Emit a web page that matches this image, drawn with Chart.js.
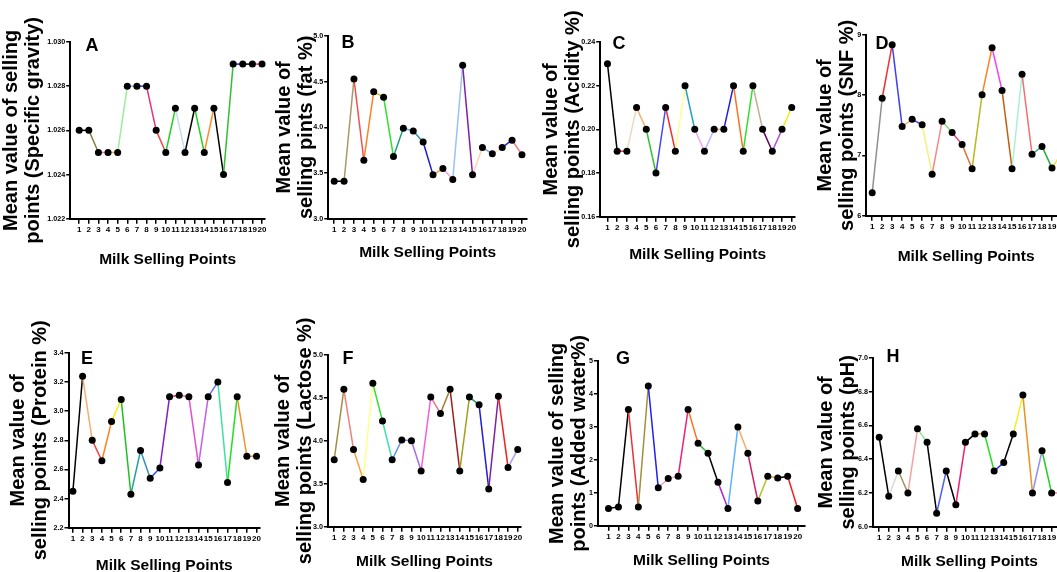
<!DOCTYPE html>
<html><head><meta charset="utf-8">
<script src="https://cdn.jsdelivr.net/npm/chart.js@4.4.1/dist/chart.umd.min.js"></script>
<style>
html,body{margin:0;padding:0;background:#fff;}
body{width:1057px;height:572px;overflow:hidden;position:relative;}
canvas{position:absolute;}
.tag{position:absolute;font:bold 18px 'Liberation Sans',Arial,sans-serif;color:#000;line-height:1;transform:translate(-50%,-50%);}
</style></head><body>
<script>
// ---------- data ----------
const sellingPoints = [1,2,3,4,5,6,7,8,9,10,11,12,13,14,15,16,17,18,19,20];

const specificGravity = [1.026,1.026,1.025,1.025,1.025,1.028,1.028,1.028,1.026,1.025,1.027,1.025,1.027,1.025,1.027,1.024,1.029,1.029,1.029,1.029];
const fatPct          = [3.41,3.41,4.53,3.64,4.39,4.33,3.68,3.99,3.96,3.84,3.48,3.55,3.43,4.68,3.48,3.78,3.71,3.78,3.86,3.70];
const acidityPct      = [0.23,0.19,0.19,0.21,0.20,0.18,0.21,0.19,0.22,0.20,0.19,0.20,0.20,0.22,0.19,0.22,0.20,0.19,0.20,0.21];
const snfPct          = [6.38,7.95,8.84,7.48,7.60,7.51,6.69,7.57,7.38,7.18,6.78,8.01,8.79,8.08,6.78,8.35,7.02,7.15,6.79,7.05];
const proteinPct      = [2.45,3.24,2.80,2.66,2.93,3.08,2.43,2.73,2.54,2.61,3.10,3.11,3.10,2.63,3.10,3.20,2.51,3.10,2.69,2.69];
const lactosePct      = [3.78,4.60,3.90,3.55,4.67,4.23,3.78,4.01,4.00,3.65,4.51,4.32,4.60,3.65,4.51,4.42,3.44,4.52,3.69,3.90];
const addedWaterPct   = [0.52,0.57,3.53,0.57,4.24,1.15,1.43,1.50,3.53,2.50,2.20,1.32,0.52,3.00,2.20,0.75,1.50,1.45,1.50,0.52];
const phValues        = [6.53,6.18,6.33,6.20,6.58,6.50,6.08,6.33,6.13,6.50,6.55,6.55,6.33,6.38,6.55,6.78,6.20,6.45,6.20,6.20];

const ticksA = ['1.022','1.024','1.026','1.028','1.030'];
const ticksB = ['3.0','3.5','4.0','4.5','5.0'];
const ticksC = ['0.16','0.18','0.20','0.22','0.24'];
const ticksD = ['6','7','8','9'];
const ticksE = ['2.2','2.4','2.6','2.8','3.0','3.2','3.4'];
const ticksF = ['3.0','3.5','4.0','4.5','5.0'];
const ticksG = ['0','1','2','3','4','5'];
const ticksH = ['6.0','6.2','6.4','6.6','6.8','7.0'];

const xTitle = 'Milk Selling Points';
const titleA = ['Mean value of selling','points (Specific gravity)'];
const titleB = ['Mean value of','selling pints (fat %)'];
const titleC = ['Mean value of','selling points (Acidity %)'];
const titleD = ['Mean value of','selling points (SNF %)'];
const titleE = ['Mean value of','selling points (Protein %)'];
const titleF = ['Mean value of','selling points (Lactose %)'];
const titleG = ['Mean value of selling','points (Added water%)'];
const titleH = ['Mean value of','selling points (pH)'];

// ---------- segment colours (style) ----------
const colA = ['#000000','#8b7d45','#f08080','#f5a55a','#98f098','#87c5f0','#2840e8','#e8307c','#f04848','#22d022','#c4dcf4','#000000','#22d022','#ff8c28','#000000','#30c030','#1c1ce0','#000000','#e8307c'];
const colB = ['#000000','#a89a68','#f05050','#ff7f27','#c8c828','#30e030','#20a080','#5aaee0','#2e8ea8','#1e1ec8','#f0a040','#f0a0e0','#96c4f4','#8020a0','#ffd2b4','#8a96d8','#f4f0c4','#2030c8','#f08080'];
const colC = ['#000000','#f03030','#e8dcc0','#f0b070','#30c030','#4848f0','#f03030','#ffff90','#20a0c0','#f0a8f0','#b8b8ff','#f0b070','#2020e0','#ff7020','#30e030','#c0b090','#600060','#b050e0','#f0f020'];
const colD = ['#909090','#f03030','#4040f0','#f0b070','#4848e8','#f4f080','#f08a8a','#80e080','#e04080','#e87030','#b8b820','#ff8020','#f040f0','#c06010','#a8f0d8','#f07070','#30b080','#20b040','#f0e040'];
const colE = ['#000000','#f0b070','#f04040','#ff8020','#f0f020','#20c020','#20a0a0','#3090c0','#3050f0','#8020c0','#e02050','#f07090','#e050d0','#c060f0','#6070f0','#40e0a0','#20e020','#f09030','#f09030'];
const colF = ['#a09040','#f08080','#ffa040','#ffff90','#30e030','#40e0b0','#6090f0','#7878f0','#a070e0','#f060e0','#f07090','#a08040','#a02020','#a0a020','#20a070','#2020d0','#8020a0','#f02020','#a0a0f0'];
const colG = ['#000000','#000000','#f03030','#a09040','#2020f0','#f4a8b8','#f0b8b8','#f02080','#ff7020','#30c030','#000000','#b020d0','#60b0ff','#f0b070','#d0206a','#b0c020','#f0a030','#000000','#f02020'];
const colH = ['#000000','#d8d8d8','#a09060','#f4a0a0','#90e090','#000000','#5060f0','#000000','#f02070','#000000','#f09030','#20e020','#2030f0','#000000','#f0f020','#f09020','#9090f0','#20d020','#f080a0'];

// ---------- layout (pixel geometry of each panel) ----------
const panels = [
  {tag:'A', vals:specificGravity, ticks:ticksA, title:titleA, cols:colA, g:{line1:11, axisX:70, top:42, bottom:219, right:265, xMin:0.066, xMax:20.31, xT:260, cTop:0, tx:92, ty:45}},
  {tag:'B', vals:fatPct, ticks:ticksB, title:titleB, cols:colB, g:{line1:284, axisX:328, top:36, bottom:219, right:526.7, xMin:0.393, xMax:20.51, xT:253, cTop:0, tx:348, ty:42}},
  {tag:'C', vals:acidityPct, ticks:ticksC, title:titleC, cols:colC, g:{line1:551, axisX:600, top:42, bottom:217, right:795, xMin:0.248, xMax:20.34, xT:255, cTop:0, tx:619, ty:43}},
  {tag:'D', vals:snfPct, ticks:ticksD, title:titleD, cols:colD, g:{line1:825, axisX:866, top:35, bottom:216, right:1066, xMin:0.4, xMax:20.4, xT:257, cTop:0, tx:882, ty:43}},
  {tag:'E', vals:proteinPct, ticks:ticksE, title:titleE, cols:colE, g:{line1:18, axisX:68.3, top:353, bottom:528, right:259.5, xMin:0.544, xMax:20.36, xT:566, cTop:290, tx:87, ty:358}},
  {tag:'F', vals:lactosePct, ticks:ticksF, title:titleF, cols:colF, g:{line1:283, axisX:327.7, top:355, bottom:527, right:521, xMin:0.348, xMax:20.34, xT:562, cTop:290, tx:348, ty:358}},
  {tag:'G', vals:addedWaterPct, ticks:ticksG, title:titleG, cols:colG, g:{line1:557, axisX:597.7, top:361, bottom:526, right:805, xMin:-0.063, xMax:20.74, xT:561, cTop:290, tx:623, ty:358}},
  {tag:'H', vals:phValues, ticks:ticksH, title:titleH, cols:colH, g:{line1:826, axisX:872.7, top:358, bottom:527, right:1066, xMin:0.343, xMax:20.5, xT:562, cTop:290, tx:893, ty:356}}
];

const SANS = "'Liberation Sans',Arial,sans-serif";
const YT_SIZE = 20, YT_LH = 1.12;
const XT_SIZE = 15.5, XT_LH = 1.2;
const PAD_R = 6;

panels.forEach(p => {
  const g = p.g;
  const yLine = YT_SIZE * YT_LH;
  const left = g.line1 - yLine / 2;
  const top = g.cTop;
  const bottom = g.xT + XT_SIZE * XT_LH / 2;
  const width = Math.round(g.right + PAD_R - left);
  const height = Math.round(bottom - top);
  const yW = g.axisX - left;
  const cv = document.createElement('canvas');
  cv.width = width; cv.height = height;
  cv.style.left = left + 'px'; cv.style.top = top + 'px';
  cv.style.width = width + 'px'; cv.style.height = height + 'px';
  document.body.appendChild(cv);

  const tickVals = p.ticks.map(Number);
  new Chart(cv, {
    type: 'line',
    data: {
      labels: sellingPoints,
      datasets: [{
        data: p.vals,
        borderWidth: 1.5,
        pointRadius: 3.5,
        pointBackgroundColor: '#000',
        pointBorderColor: '#000',
        pointBorderWidth: 0,
        tension: 0,
        clip: false,
        segment: { borderColor: c => p.cols[c.p0DataIndex] }
      }]
    },
    options: {
      responsive: false,
      animation: false,
      events: [],
      layout: { padding: { top: g.top - top, right: PAD_R, left: 0, bottom: 0 } },
      plugins: { legend: { display: false }, tooltip: { enabled: false } },
      scales: {
        x: {
          type: 'linear', min: g.xMin, max: g.xMax,
          afterBuildTicks: s => { s.ticks = sellingPoints.map(v => ({ value: v })); },
          afterFit: s => { s.height = bottom - g.bottom; },
          ticks: { autoSkip: false, maxRotation: 0, minRotation: 0, padding: 1, color: '#000',
                   font: { family: SANS, size: 8, weight: 'bold' }, callback: v => String(v) },
          grid: { drawOnChartArea: false, drawTicks: true, tickLength: 5, color: '#000', lineWidth: 1.5 },
          border: { display: true, color: '#000', width: 2 },
          title: { display: true, text: xTitle, color: '#000', padding: 0,
                   font: { family: SANS, size: XT_SIZE, weight: 'bold', lineHeight: XT_LH } }
        },
        y: {
          type: 'linear', min: tickVals[0], max: tickVals[tickVals.length - 1],
          afterBuildTicks: s => { s.ticks = tickVals.map(v => ({ value: v })); },
          afterFit: s => { s.width = yW; },
          ticks: { padding: 1, color: '#000', font: { family: SANS, size: 7.2, weight: 'bold' },
                   callback: (v, i) => p.ticks[i] },
          grid: { drawOnChartArea: false, drawTicks: true, tickLength: 4, color: '#000', lineWidth: 1.5 },
          border: { display: true, color: '#000', width: 2 },
          title: { display: true, text: p.title, color: '#000', padding: 0,
                   font: { family: SANS, size: YT_SIZE, weight: 'bold', lineHeight: YT_LH } }
        }
      }
    }
  });

  const t = document.createElement('div');
  t.className = 'tag';
  t.textContent = p.tag;
  t.style.left = g.tx + 'px'; t.style.top = g.ty + 'px';
  document.body.appendChild(t);
});
</script>
</body></html>
